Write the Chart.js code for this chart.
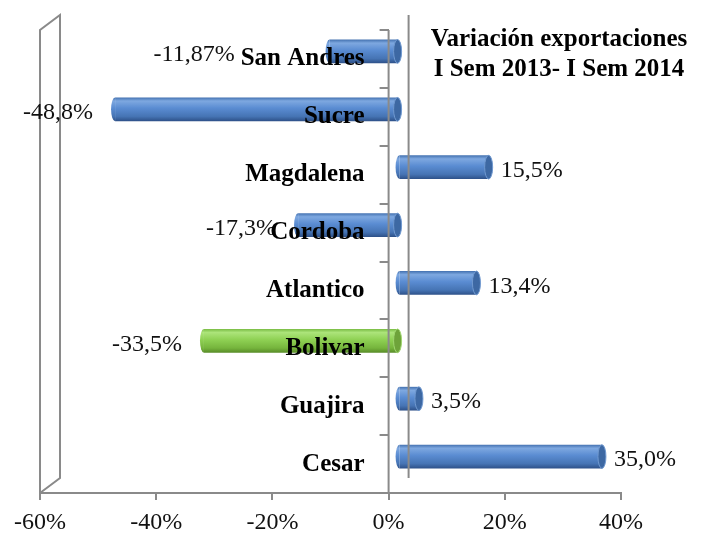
<!DOCTYPE html>
<html>
<head>
<meta charset="utf-8">
<script src="https://cdn.jsdelivr.net/npm/chart.js@4.4.0/dist/chart.umd.min.js"></script>
<style>
  body { margin: 0; background: #fff; }
</style>
</head>
<body>
<canvas id="grafico" width="712" height="536"></canvas>
<script>
// datos
var departamentos = ['San Andres', 'Sucre', 'Magdalena', 'Cordoba', 'Atlantico', 'Bolivar', 'Guajira', 'Cesar'];
var variacion = [-11.87, -48.8, 15.5, -17.3, 13.4, -33.5, 3.5, 35.0];
var ticksX = [-60, -40, -20, 0, 20, 40];
var destacado = 'Bolivar';
var titulo = ['Variación exportaciones', 'I Sem 2013- I Sem 2014'];

var gris = '#8a8a8a';
var prof = {x: 20, y: -15};    // profundidad del efecto 3d
var mitad = {x: 10, y: -7.5};  // las barras van a media profundidad
var rx = 4;

// azul, verde
var colAzul = ['#4371b0', '#7ea8e0', '#5a8cd2', '#4674b4', '#2d5088'];
var colVerde = ['#78bb42', '#ace47a', '#8fd154', '#76b53d', '#588c28'];

function formato(v) {
  var s = Math.abs(v * 10 - Math.round(v * 10)) < 1e-9 ? v.toFixed(1) : v.toFixed(2);
  return s.replace('.', ',') + '%';
}

function gradiente(c) {
  var ch = c.chart, sy = ch.scales.y;
  var col = departamentos[c.dataIndex] === destacado ? colVerde : colAzul;
  if (!sy || !ch.chartArea) return col[2];
  var yc = sy.getPixelForValue(c.dataIndex);
  var h = (sy.getPixelForValue(1) - sy.getPixelForValue(0)) * 0.41;
  var g = ch.ctx.createLinearGradient(0, yc - h / 2, 0, yc + h / 2);
  g.addColorStop(0, col[0]);
  g.addColorStop(0.15, col[1]);
  g.addColorStop(0.45, col[2]);
  g.addColorStop(0.8, col[3]);
  g.addColorStop(1, col[4]);
  return g;
}

var efecto3d = {
  id: 'efecto3d',
  afterLayout: function(chart) {
    // el eje de categorias se pone en el 0
    var sy = chart.scales.y;
    var x0 = chart.scales.x.getPixelForValue(0);
    sy.left = chart.chartArea.left;
    sy.right = x0;
    sy.width = x0 - sy.left;
  },
  beforeDatasetsDraw: function(chart) {
    chart.ctx.save();
    chart.ctx.translate(mitad.x, mitad.y);
  },
  afterDatasetsDraw: function(chart, args, opts) {
    var c = chart.ctx;
    var meta = chart.getDatasetMeta(0);
    meta.data.forEach(function(el, i) {
      var izq = Math.min(el.x, el.base), der = Math.max(el.x, el.base);
      var r = el.height / 2;
      var verde = departamentos[i] === destacado;
      // extremo redondeado
      c.beginPath();
      c.ellipse(izq, el.y, rx, r, 0, Math.PI / 2, Math.PI * 1.5);
      c.fillStyle = el.options.backgroundColor;
      c.fill();
      // tapa
      c.beginPath();
      c.ellipse(der, el.y, rx, r, 0, 0, Math.PI * 2);
      c.fillStyle = verde ? '#6ea33a' : '#3d68a3';
      c.fill();
      c.lineWidth = 1;
      c.strokeStyle = verde ? '#a0d670' : '#7099d0';
      c.stroke();
    });
    c.restore();

    // paredes
    var sx = chart.scales.x, a = chart.chartArea;
    var xIni = sx.getPixelForValue(ticksX[0]);
    var x0 = sx.getPixelForValue(0);
    c.save();
    c.strokeStyle = gris;
    c.lineWidth = 2;
    c.beginPath();
    c.moveTo(xIni, a.bottom);
    c.lineTo(xIni, a.top);
    c.lineTo(xIni + prof.x, a.top + prof.y);
    c.lineTo(xIni + prof.x, a.bottom + prof.y);
    c.lineTo(xIni, a.bottom);
    c.moveTo(x0 + prof.x, a.top + prof.y);
    c.lineTo(x0 + prof.x, a.bottom + prof.y);
    c.stroke();
    // eje del 0 (delante de las barras)
    c.beginPath();
    c.moveTo(x0, a.top);
    c.lineTo(x0, a.bottom);
    c.stroke();

    // etiquetas
    c.font = '24px "Liberation Serif"';
    c.fillStyle = '#111';
    c.textBaseline = 'middle';
    var desp = opts.desplazar || {};
    meta.data.forEach(function(el, i) {
      var v = variacion[i];
      var y = el.y - 4;
      var d = desp[i] || 0;
      if (v >= 0) {
        c.textAlign = 'left';
        c.fillText(formato(v), el.x + mitad.x + 12 + d, y);
      } else {
        c.textAlign = 'right';
        c.fillText(formato(v), el.x + mitad.x - 22 + d, y);
      }
    });

    // titulo
    c.font = 'bold 25px "Liberation Serif"';
    c.fillStyle = '#000';
    c.textAlign = 'center';
    c.fillText(titulo[0], a.right - 62, a.top + 10);
    c.fillText(titulo[1], a.right - 62, a.top + 40);
    c.restore();
  }
};

var grafico = new Chart(document.getElementById('grafico'), {
  type: 'bar',
  data: {
    labels: departamentos,
    datasets: [{
      data: variacion,
      backgroundColor: gradiente,
      borderWidth: 0,
      barPercentage: 0.41,
      categoryPercentage: 1,
      clip: false
    }]
  },
  options: {
    indexAxis: 'y',
    responsive: false,
    animation: false,
    events: [],
    layout: { padding: { left: 40, right: 91, top: 25, bottom: 0 } },
    scales: {
      x: {
        min: -60,
        max: 40,
        afterBuildTicks: function(s) { s.ticks = ticksX.map(function(v) { return {value: v}; }); },
        afterFit: function(s) { s.height = 43; },
        grid: { drawOnChartArea: false, tickLength: 7, color: gris, lineWidth: 2 },
        border: { color: gris, width: 2 },
        ticks: {
          callback: function(v) { return v + '%'; },
          font: { family: 'Liberation Serif', size: 24 },
          color: '#111',
          padding: 8,
          maxRotation: 0,
          autoSkip: false
        }
      },
      y: {
        position: 'left',
        afterFit: function(s) { s.width = 0; },
        grid: { offset: true, drawOnChartArea: false, tickLength: 9, color: gris, lineWidth: 2, z: 1 },
        border: { display: false },
        ticks: {
          font: { family: 'Liberation Serif', size: 25, weight: 'bold' },
          color: '#000',
          padding: 15,
          z: 1
        }
      }
    },
    plugins: {
      legend: { display: false },
      tooltip: { enabled: false },
      efecto3d: { desplazar: { 0: -73 } }
    }
  },
  plugins: [efecto3d]
});
</script>
</body>
</html>
